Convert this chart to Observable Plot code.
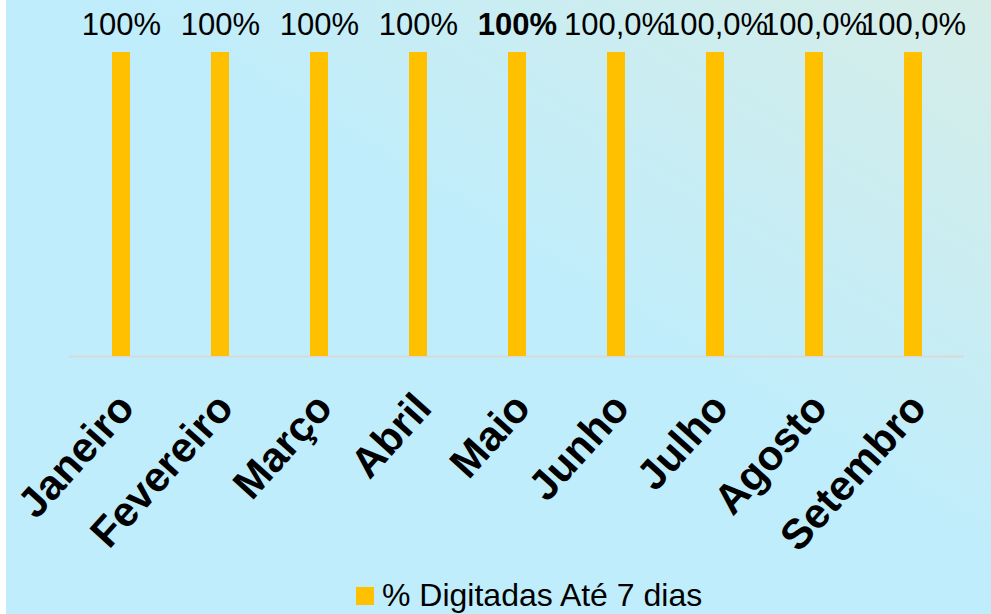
<!DOCTYPE html>
<html>
<head>
<meta charset="utf-8">
<script src="https://cdn.jsdelivr.net/npm/d3@7"></script>
<script src="https://cdn.jsdelivr.net/npm/@observablehq/plot@0.6"></script>
<style>
  html, body { margin: 0; padding: 0; background: #ffffff; }
  #frame {
    position: relative; width: 985px; height: 614px; margin-left: 6px;
    background: linear-gradient(to top right, #c0edfb 0%, #c0edfb 55%, #d6ede7 100%);
    font-family: Arial, "Liberation Sans", sans-serif; overflow: hidden;
  }
  #chart { position: absolute; left: 0; top: 0; }
  #legend {
    position: absolute; left: 350px; top: 577px; display: flex; align-items: center;
    font-size: 32px; color: #000; white-space: nowrap;
  }
  #legend .sw { width: 18px; height: 18px; background: #ffc000; margin-right: 8px; }
</style>
</head>
<body>
<div id="frame">
  <div id="chart"></div>
  <div id="legend"><div class="sw"></div><span>% Digitadas Até 7 dias</span></div>
</div>
<script>
const months = ["Janeiro","Fevereiro","Março","Abril","Maio","Junho","Julho","Agosto","Setembro"];
const values = [1, 1, 1, 1, 1, 1, 1, 1, 1];
const valueLabels = ["100%","100%","100%","100%","100%","100,0%","100,0%","100,0%","100,0%"];
const boldMonths = ["Maio"];
const seriesName = "% Digitadas Até 7 dias";

const data = months.map((m, i) => ({month: m, value: values[i], label: valueLabels[i], bold: boldMonths.includes(m)}));

const chart = Plot.plot({
  width: 985,
  height: 570,
  marginTop: 52,
  marginBottom: 214,
  marginLeft: 63,
  marginRight: 27,
  style: {background: "transparent", fontFamily: "Arial, 'Liberation Sans', sans-serif", color: "#000"},
  x: {domain: months, paddingInner: 0.82, paddingOuter: 0.41, label: null},
  y: {domain: [0, 1], axis: null},
  marks: [
    Plot.ruleY([0], {stroke: "#d9d9d9", strokeWidth: 2}),
    Plot.barY(data, {x: "month", y: "value", fill: "#ffc000"}),
    Plot.text(data.filter(d => !d.bold), {x: "month", y: "value", text: "label", dy: -27, fontSize: 31, fill: "#000"}),
    Plot.text(data.filter(d => d.bold), {x: "month", y: "value", text: "label", dy: -27, fontSize: 31, fontWeight: "bold", fill: "#000"}),
    Plot.axisX({tickRotate: -48, tickSize: 0, tickPadding: 44, fontSize: 42, fontWeight: "bold", dx: 5, label: null, fill: "#000"})
  ]
});
document.getElementById("chart").appendChild(chart);
</script>
</body>
</html>
